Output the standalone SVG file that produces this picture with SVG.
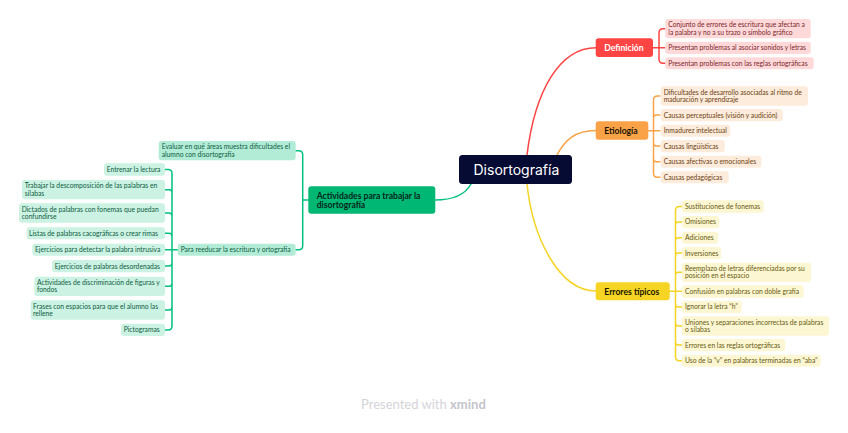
<svg xmlns="http://www.w3.org/2000/svg" width="848" height="433" viewBox="0 0 848 433">
<style>
text{font-family:"Lato","Noto Sans",sans-serif;font-size:6.72px}
.c{fill:none;stroke-width:1.5;stroke-linecap:round}
.r{stroke:#FF4444}.o{stroke:#F9A247}.y{stroke:#F5D423}.g{stroke:#00C080}
.lr rect{fill:#FFD9D9}.lr text{fill:#7A1F2A}
.lo rect{fill:#FDEBDC}.lo text{fill:#6B3F10}
.ly rect{fill:#FDF6D3}.ly text{fill:#665A0F}
.lg rect{fill:#CCF2E3}.lg text{fill:#0D5C42}
.lg2 rect{fill:#B2ECD6}.lg2 text{fill:#0D5C42}
.m text{font-size:8.6px;font-weight:700}
</style>
<rect width="848" height="433" fill="#FFFFFF"/>
<g id="connectors">
<path class="c r" d="M527 155C535 90 560 47.7 596 47.7"/>
<path class="c o" d="M557 155C565 140 575 130.5 596 130.5"/>
<path class="c y" d="M527 184C533 240 560 291 596 291"/>
<path class="c g" d="M471 184C465 195 452 200 435 200"/>
<path class="c r" d="M653 47.7H665M659 47.7V32.7Q659 28.7 663 28.7H665M659 47.7V59.3Q659 63.3 663 63.3H665"/>
<path class="c o" d="M648.3 130.7H660M653.5 130.7V100Q653.5 96 657.5 96H660M653.5 118Q653.5 115 656.5 115H660M653.5 143Q653.5 146 656.5 146H660M653.5 158.7Q653.5 161.7 656.5 161.7H660M653.5 130.7V173.3Q653.5 177.3 657.5 177.3H660"/>
<path class="c y" d="M669.7 291.3H682M675.5 291.3V210.5Q675.5 206.5 679.5 206.5H682M675.5 225Q675.5 222 678.5 222H682M675.5 240.7Q675.5 237.7 678.5 237.7H682M675.5 256Q675.5 253 678.5 253H682M675.5 275.3Q675.5 272.3 678.5 272.3H682M675.5 304Q675.5 307 678.5 307H682M675.5 323Q675.5 326 678.5 326H682M675.5 342Q675.5 345 678.5 345H682M675.5 291.3V356.7Q675.5 360.7 679.5 360.7H682"/>
<path class="c g" d="M308.3 200H302.7M302.7 200V154.7Q302.7 150.7 298.7 150.7H295.7M302.7 200V245.7Q302.7 249.7 298.7 249.7H295.7"/>
<path class="c g" d="M177.7 249.7H165M172 249.7V173.5Q172 169.5 168 169.5H165M172 192.7Q172 189.7 169 189.7H165M172 216Q172 213 169 213H165M172 236.3Q172 233.3 169 233.3H165M172 263Q172 266 169 266H165M172 283.3Q172 286.3 169 286.3H165M172 307Q172 310 169 310H165M172 249.7V326Q172 330 168 330H165"/>
</g>
<g id="root"><rect x="459" y="155" width="113" height="29" rx="3.5" fill="#060B33"/><text x="473.5" y="174.5" fill="#FFFFFF" style="font-family:Inter,sans-serif;font-size:14px">Disortografía</text></g>
<g id="definicion" class="m"><rect x="595.7" y="38.3" width="57.3" height="18.7" rx="3" fill="#FF4444"/><text x="604.3" y="50.7" fill="#FFFFFF">Definición</text></g>
<g id="etiologia" class="m"><rect x="595.7" y="121.3" width="52.6" height="18.4" rx="3" fill="#F9A247"/><text x="604.3" y="133.7" fill="#1A1205">Etiología</text></g>
<g id="errores" class="m"><rect x="595.7" y="282.3" width="74" height="18" rx="3" fill="#F5D423"/><text x="604.3" y="294.5" fill="#1A1600">Errores típicos</text></g>
<g id="actividades" class="m"><rect x="308.3" y="186.3" width="127" height="27.4" rx="3" fill="#00B774"/><text x="316.7" y="198.6" fill="#04261A">Actividades para trabajar la</text><text x="316.7" y="208" fill="#04261A">disortografía</text></g>
<g id="d1" class="lr"><rect x="665.3" y="19" width="145.4" height="19.3" rx="3"/><text x="668.3" y="27.3">Conjunto de errores de escritura que afectan a</text><text x="668.3" y="34.7">la palabra y no a su trazo o símbolo gráfico</text></g>
<g id="d2" class="lr"><rect x="665.3" y="41.7" width="145.4" height="12.3" rx="3"/><text x="668.3" y="50.2">Presentan problemas al asociar sonidos y letras</text></g>
<g id="d3" class="lr"><rect x="665.3" y="57.3" width="148.4" height="12" rx="3"/><text x="668.3" y="65.7">Presentan problemas con las reglas ortográficas</text></g>
<g id="e1" class="lo"><rect x="660.7" y="86.3" width="147.3" height="19.4" rx="3"/><text x="663.7" y="94.6">Dificultades de desarrollo asociadas al ritmo de</text><text x="663.7" y="102">maduración y aprendizaje</text></g>
<g id="e2" class="lo"><rect x="660.7" y="109" width="122" height="12.3" rx="3"/><text x="663.7" y="117.5">Causas perceptuales (visión y audición)</text></g>
<g id="e3" class="lo"><rect x="660.7" y="124.7" width="69.6" height="12" rx="3"/><text x="663.7" y="133">Inmadurez intelectual</text></g>
<g id="e4" class="lo"><rect x="660.7" y="140" width="64" height="12.3" rx="3"/><text x="663.7" y="148.5">Causas lingüísticas</text></g>
<g id="e5" class="lo"><rect x="660.7" y="155.7" width="100.6" height="12" rx="3"/><text x="663.7" y="164">Causas afectivas o emocionales</text></g>
<g id="e6" class="lo"><rect x="660.7" y="171.3" width="68" height="12" rx="3"/><text x="663.7" y="179.6">Causas pedagógicas</text></g>
<g id="t1" class="ly"><rect x="682" y="200.3" width="81.7" height="12.4" rx="3"/><text x="685" y="208.8">Sustituciones de fonemas</text></g>
<g id="t2" class="ly"><rect x="682" y="216" width="37.3" height="12.3" rx="3"/><text x="685" y="224.4">Omisiones</text></g>
<g id="t3" class="ly"><rect x="682" y="231.7" width="36" height="12" rx="3"/><text x="685" y="240">Adiciones</text></g>
<g id="t4" class="ly"><rect x="682" y="247" width="39" height="12.3" rx="3"/><text x="685" y="255.5">Inversiones</text></g>
<g id="t5" class="ly"><rect x="682" y="262.7" width="129" height="19.3" rx="3"/><text x="685" y="271">Reemplazo de letras diferenciadas por su</text><text x="685" y="278.3">posición en el espacio</text></g>
<g id="t6" class="ly"><rect x="682" y="285.3" width="121.7" height="12.4" rx="3"/><text x="685" y="293.8">Confusión en palabras con doble grafía</text></g>
<g id="t7" class="ly"><rect x="682" y="301" width="59.7" height="12" rx="3"/><text x="685" y="309.3">Ignorar la letra “h”</text></g>
<g id="t8" class="ly"><rect x="682" y="316.3" width="147" height="19.4" rx="3"/><text x="685" y="324.7">Uniones y separaciones incorrectas de palabras</text><text x="685" y="332">o sílabas</text></g>
<g id="t9" class="ly"><rect x="682" y="339" width="103.3" height="12.3" rx="3"/><text x="685" y="347.5">Errores en las reglas ortográficas</text></g>
<g id="t10" class="ly"><rect x="682" y="354.7" width="138.7" height="12" rx="3"/><text x="685" y="363">Uso de la “v” en palabras terminadas en “aba”</text></g>
<g id="a1" class="lg2"><rect x="158.7" y="141" width="137" height="19.3" rx="3"/><text x="161.7" y="149.3">Evaluar en qué áreas muestra dificultades el</text><text x="161.7" y="156.7">alumno con disortografía</text></g>
<g id="a2" class="lg2"><rect x="177.7" y="243.7" width="118" height="12" rx="3"/><text x="180.7" y="252">Para reeducar la escritura y ortografía</text></g>
<g id="l1" class="lg"><rect x="104" y="163.3" width="61" height="12.4" rx="3"/><text x="106.7" y="172">Entrenar la lectura</text></g>
<g id="l2" class="lg"><rect x="22" y="180" width="143" height="19.3" rx="3"/><text x="24.7" y="188.4">Trabajar la descomposición de las palabras en</text><text x="24.7" y="195.7">sílabas</text></g>
<g id="l3" class="lg"><rect x="19" y="203.3" width="146" height="19.4" rx="3"/><text x="21.7" y="211.8">Dictados de palabras con fonemas que puedan</text><text x="21.7" y="219.2">confundirse</text></g>
<g id="l4" class="lg"><rect x="26.7" y="227.3" width="138.3" height="12" rx="3"/><text x="29" y="235.7">Listas de palabras cacográficas o crear rimas</text></g>
<g id="l5" class="lg"><rect x="32.3" y="243.7" width="132.7" height="12" rx="3"/><text x="35" y="252">Ejercicios para detectar la palabra intrusiva</text></g>
<g id="l6" class="lg"><rect x="52" y="260" width="113" height="12.3" rx="3"/><text x="54.7" y="268.5">Ejercicios de palabras desordenadas</text></g>
<g id="l7" class="lg"><rect x="34.3" y="276.7" width="130.7" height="19.3" rx="3"/><text x="37" y="285">Actividades de discriminación de figuras y</text><text x="37" y="292.4">fondos</text></g>
<g id="l8" class="lg"><rect x="30.7" y="300.3" width="134.3" height="19.4" rx="3"/><text x="33" y="308.7">Frases con espacios para que el alumno las</text><text x="33" y="316">rellene</text></g>
<g id="l9" class="lg"><rect x="121" y="323.7" width="44" height="12.3" rx="3"/><text x="123.7" y="332.2">Pictogramas</text></g>
<g id="watermark"><text x="361" y="408.5" fill="#D4D4D8" style="font-size:13px">Presented with <tspan font-weight="700" fill="#C4C4CC">xmind</tspan></text></g>
</svg>
